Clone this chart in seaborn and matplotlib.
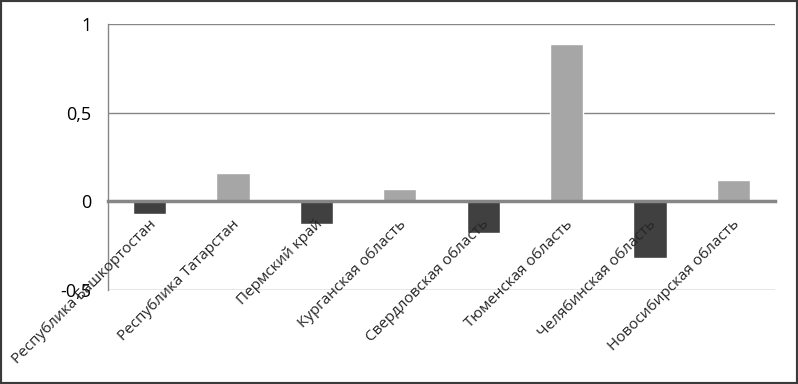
import matplotlib
matplotlib.use("Agg")
import matplotlib.pyplot as plt
import matplotlib.transforms as mtransforms
import seaborn as sns
import numpy as np
from matplotlib.ticker import FixedLocator, FuncFormatter
from matplotlib.patches import Rectangle

categories = ["Республика Башкортостан", "Республика Татарстан", "Пермский край",
              "Курганская область", "Свердловская область", "Тюменская область",
              "Челябинская область", "Новосибирская область"]
values = [-0.07, 0.16, -0.13, 0.07, -0.18, 0.89, -0.32, 0.12]
y_ticks = [-0.5, 0, 0.5, 1]

sns.set_style("white")
plt.rcParams['font.family'] = ['Open Sans', 'DejaVu Sans']

fig = plt.figure(figsize=(7.98, 3.84), dpi=100)
ax = fig.add_axes([108/798, 1-290/384, (775-108)/798, (290-24)/384])

colors = ['#404040' if v < 0 else '#a6a6a6' for v in values]
sns.barplot(x=categories, y=values, hue=categories, palette=colors, width=0.4,
            legend=False, ax=ax, saturation=1)

ax.set_ylim(-0.5, 1)
ax.set_xlim(-0.5, len(categories) - 0.5)
ax.yaxis.set_major_locator(FixedLocator(y_ticks))
ax.yaxis.set_major_formatter(FuncFormatter(lambda v, p: ("%g" % v).replace('.', ',')))
ax.grid(axis='y', color='#868686', linewidth=1)
ax.set_axisbelow(True)
ax.xaxis.set_zorder(5)
ax.tick_params(axis='y', direction='out', length=8, color='#868686', width=1,
               labelsize=13, pad=4, labelcolor='black')

for s in ['top', 'right']:
    ax.spines[s].set_visible(False)
ax.spines['left'].set_color('#868686')
ax.spines['left'].set_linewidth(1)
ax.spines['bottom'].set_position(('data', 0))
ax.spines['bottom'].set_color('#868686')
ax.spines['bottom'].set_linewidth(2.5)
ax.spines['bottom'].set_zorder(3)

ax.set_xticks(range(len(categories)))
ax.set_xticklabels(categories, rotation=45, ha='right', va='center',
                   rotation_mode='anchor', fontsize=11)
ax.xaxis.set_minor_locator(FixedLocator(np.arange(-0.5, len(categories), 1)))
ax.tick_params(axis='x', which='major', length=0, pad=15)
ax.tick_params(axis='x', which='minor', length=4, width=3, color='#868686', direction='out')
offset = mtransforms.ScaledTranslation(4/100, 0, fig.dpi_scale_trans)
for lbl in ax.get_xticklabels():
    lbl.set_transform(lbl.get_transform() + offset)
ax.set_xlabel('')
ax.set_ylabel('')

fig.patches.append(Rectangle((0, 0), 1, 1, transform=fig.transFigure, fill=False,
                             edgecolor='#3a3a3a', linewidth=3, zorder=10))

fig.savefig("out.png", dpi=100)
